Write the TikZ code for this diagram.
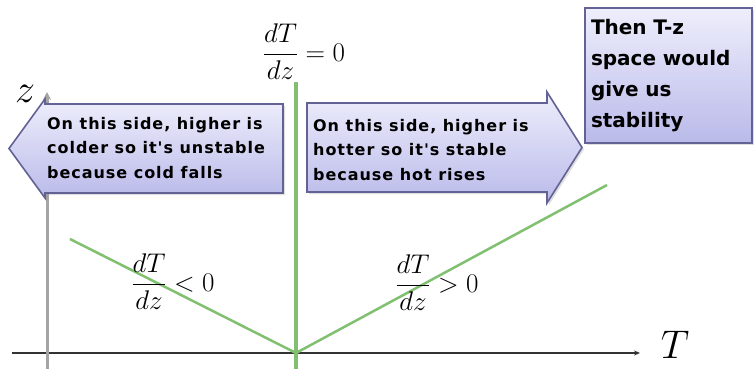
\RequirePackage{fix-cm}
\documentclass[tikz,border=0pt]{standalone}
\usepackage{amsmath}
\usepackage{fontspec}
\usetikzlibrary{arrows.meta,positioning,shadows}
\newfontfamily\notefont[LetterSpace=6]{DejaVu Sans Bold}
\newfontfamily\boxfont{DejaVu Sans Bold}
\definecolor{calltop}{RGB}{238,238,252}
\definecolor{callbot}{RGB}{186,186,234}
\definecolor{callrim}{RGB}{98,98,148}
\definecolor{slopegreen}{RGB}{128,192,112}
\definecolor{zgray}{RGB}{165,165,165}

\begin{document}
\begin{tikzpicture}[x=1pt, y=-1pt,
        callout/.style={draw=callrim, line width=1.6pt, top color=calltop, bottom color=callbot,
          drop shadow={opacity=0.25, shadow xshift=2pt, shadow yshift=-2pt}},
        notetext/.style={font=\notefont\fontsize{16}{24.5}\selectfont, align=left, anchor=west, inner sep=0pt},
        slope/.style={draw=slopegreen, line width=2.5pt},
        mathlab/.style={font=\fontsize{27}{31}\selectfont, inner sep=0pt},
        axislab/.style={font=\fontsize{40}{44}\selectfont, inner sep=0pt}
      ]
      \useasboundingbox (0,0) rectangle (756,369);

      % axes
      \coordinate (origin) at (296,353);
      \coordinate (tstart) at (12,353);
      \coordinate (tend) at (640,353);
      \coordinate (zbot) at (47,369);
      \coordinate (ztop) at (47,92);
      \draw[line width=1.5pt, black!80, -{Stealth[length=6pt, width=5pt]}] (tstart) -- (tend);
      \draw[line width=3pt, zgray, -{Stealth[length=8pt, width=8pt]}] (zbot) -- (ztop);
      \node[axislab] (tlab) at (675,345) {$T$};
      \node[axislab] (zlab) at (25,94) {$z$};

      % profiles
      \coordinate (vtop) at (296,82);
      \coordinate (vbot) at (296,369);
      \coordinate (lstart) at (70,239);
      \coordinate (rend) at (607,185);
      \draw[slope, line width=3.5pt] (vbot) -- (vtop);
      \draw[slope] (lstart) -- (origin) -- (rend);

      % callouts
      \path[callout] (283,104) -- (45,104) -- (45,99) -- (9,148.5) -- (45,198) -- (45,193) -- (283,193) -- cycle;
      \node[notetext] (coldside) at (47,148) {On this side, higher is\\colder so it's unstable\\because cold falls};
      \path[callout] (307,103) -- (547,103) -- (547,92) -- (582,147.5) -- (547,203) -- (547,192) -- (307,192) -- cycle;
      \node[notetext] (hotside) at (313,150) {On this side, higher is\\hotter so it's stable\\because hot rises};
      \node[callout, minimum width=167pt, minimum height=135pt, text width=155pt, inner sep=0pt,
        font=\boxfont\fontsize{20}{31}\selectfont, align=left] (stablenote) at (668.5,75.5)
        {Then T-z\\space would\\give us\\stability};

      % slope labels
      \node[mathlab] (slopezero) at (304,52) {$\dfrac{dT}{dz}=0$};
      \node[mathlab] (slopeneg) at (173,282) {$\dfrac{dT}{dz}<0$};
      \node[mathlab] (slopepos) at (437,283) {$\dfrac{dT}{dz}>0$};
    \end{tikzpicture}
\end{document}
